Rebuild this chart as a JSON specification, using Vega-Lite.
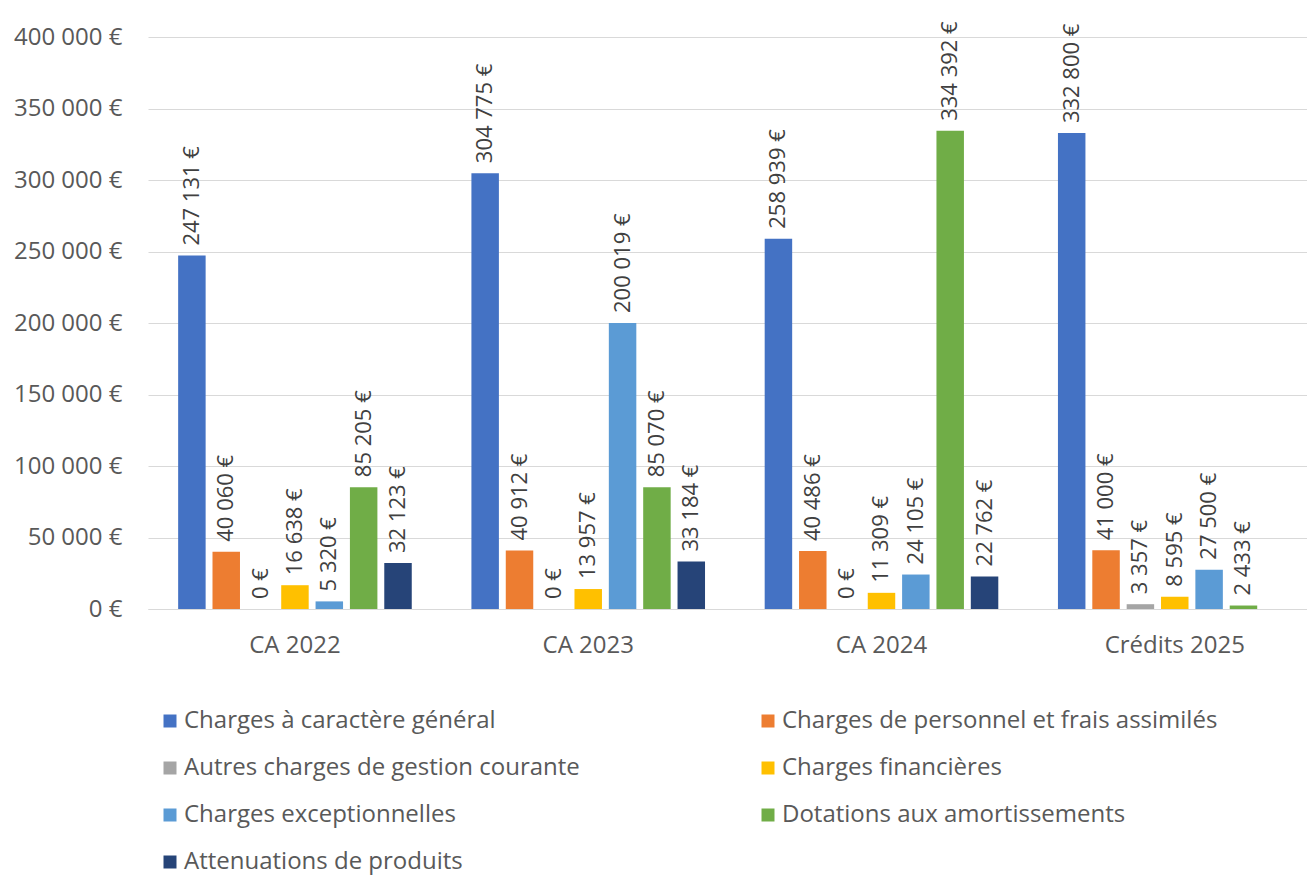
{
  "$schema": "https://vega.github.io/schema/vega-lite/v6.json",
  "width": 1159,
  "height": 572,
  "autosize": {"type": "none"},
  "padding": {"left": 148, "top": 37, "right": 0, "bottom": 268},
  "background": "white",
  "data": {
    "values": [
      {"groupe": "CA 2022", "poste": "Charges à caractère général", "montant": 247131},
      {"groupe": "CA 2022", "poste": "Charges de personnel et frais assimilés", "montant": 40060},
      {"groupe": "CA 2022", "poste": "Autres charges de gestion courante", "montant": 0},
      {"groupe": "CA 2022", "poste": "Charges financières", "montant": 16638},
      {"groupe": "CA 2022", "poste": "Charges exceptionnelles", "montant": 5320},
      {"groupe": "CA 2022", "poste": "Dotations aux amortissements", "montant": 85205},
      {"groupe": "CA 2022", "poste": "Attenuations de produits", "montant": 32123},
      {"groupe": "CA 2023", "poste": "Charges à caractère général", "montant": 304775},
      {"groupe": "CA 2023", "poste": "Charges de personnel et frais assimilés", "montant": 40912},
      {"groupe": "CA 2023", "poste": "Autres charges de gestion courante", "montant": 0},
      {"groupe": "CA 2023", "poste": "Charges financières", "montant": 13957},
      {"groupe": "CA 2023", "poste": "Charges exceptionnelles", "montant": 200019},
      {"groupe": "CA 2023", "poste": "Dotations aux amortissements", "montant": 85070},
      {"groupe": "CA 2023", "poste": "Attenuations de produits", "montant": 33184},
      {"groupe": "CA 2024", "poste": "Charges à caractère général", "montant": 258939},
      {"groupe": "CA 2024", "poste": "Charges de personnel et frais assimilés", "montant": 40486},
      {"groupe": "CA 2024", "poste": "Autres charges de gestion courante", "montant": 0},
      {"groupe": "CA 2024", "poste": "Charges financières", "montant": 11309},
      {"groupe": "CA 2024", "poste": "Charges exceptionnelles", "montant": 24105},
      {"groupe": "CA 2024", "poste": "Dotations aux amortissements", "montant": 334392},
      {"groupe": "CA 2024", "poste": "Attenuations de produits", "montant": 22762},
      {"groupe": "Crédits 2025", "poste": "Charges à caractère général", "montant": 332800},
      {"groupe": "Crédits 2025", "poste": "Charges de personnel et frais assimilés", "montant": 41000},
      {"groupe": "Crédits 2025", "poste": "Autres charges de gestion courante", "montant": 3357},
      {"groupe": "Crédits 2025", "poste": "Charges financières", "montant": 8595},
      {"groupe": "Crédits 2025", "poste": "Charges exceptionnelles", "montant": 27500},
      {"groupe": "Crédits 2025", "poste": "Dotations aux amortissements", "montant": 2433}
    ]
  },
  "encoding": {
    "x": {
      "field": "groupe",
      "type": "nominal",
      "sort": ["CA 2022", "CA 2023", "CA 2024", "Crédits 2025"],
      "scale": {"paddingInner": 0.18, "paddingOuter": 0.066, "align": 0.69},
      "axis": {
        "title": null,
        "labelAngle": 0,
        "labelFontSize": 24,
        "labelColor": "#595959",
        "labelBaseline": "middle",
        "labelPadding": 36,
        "ticks": false,
        "domain": true,
        "domainColor": "#D9D9D9",
        "domainWidth": 1,
        "grid": false
      }
    },
    "xOffset": {
      "field": "poste",
      "type": "nominal",
      "sort": [
        "Charges à caractère général",
        "Charges de personnel et frais assimilés",
        "Autres charges de gestion courante",
        "Charges financières",
        "Charges exceptionnelles",
        "Dotations aux amortissements",
        "Attenuations de produits"
      ],
      "scale": {"paddingInner": 0.2, "paddingOuter": 0.1}
    },
    "y": {
      "field": "montant",
      "type": "quantitative",
      "scale": {"domain": [0, 400000], "nice": false},
      "axis": {
        "title": null,
        "values": [0, 50000, 100000, 150000, 200000, 250000, 300000, 350000, 400000],
        "format": "$,.0f",
        "labelFontSize": 24,
        "labelColor": "#595959",
        "labelPadding": 26,
        "ticks": false,
        "domain": false,
        "grid": true,
        "gridColor": "#D9D9D9",
        "gridWidth": 1
      }
    }
  },
  "layer": [
    {
      "mark": {"type": "bar"},
      "encoding": {
        "color": {
          "field": "poste",
          "type": "nominal",
          "scale": {
            "domain": [
              "Charges à caractère général",
              "Charges de personnel et frais assimilés",
              "Autres charges de gestion courante",
              "Charges financières",
              "Charges exceptionnelles",
              "Dotations aux amortissements",
              "Attenuations de produits"
            ],
            "range": ["#4472C4", "#ED7D31", "#A5A5A5", "#FFC000", "#5B9BD5", "#70AD47", "#264478"]
          },
          "legend": {
            "title": null,
            "orient": "none",
            "direction": "horizontal",
            "legendX": 10,
            "legendY": 672,
            "columns": 2,
            "columnPadding": 176,
            "rowPadding": 23,
            "padding": 0,
            "symbolType": "square",
            "symbolSize": 169,
            "symbolStrokeWidth": 0,
            "labelFontSize": 24,
            "labelColor": "#595959",
            "labelOffset": 2,
            "labelLimit": 600
          }
        }
      }
    },
    {
      "mark": {
        "type": "text",
        "angle": 270,
        "align": "left",
        "baseline": "middle",
        "dx": 10,
        "fontSize": 22,
        "color": "#404040"
      },
      "encoding": {
        "text": {"field": "montant", "type": "quantitative", "format": "$,.0f"}
      }
    }
  ],
  "config": {
    "font": "Open Sans",
    "view": {"stroke": null},
    "locale": {
      "number": {
        "decimal": ",",
        "thousands": " ",
        "grouping": [3],
        "currency": ["", " €"]
      }
    }
  }
}
